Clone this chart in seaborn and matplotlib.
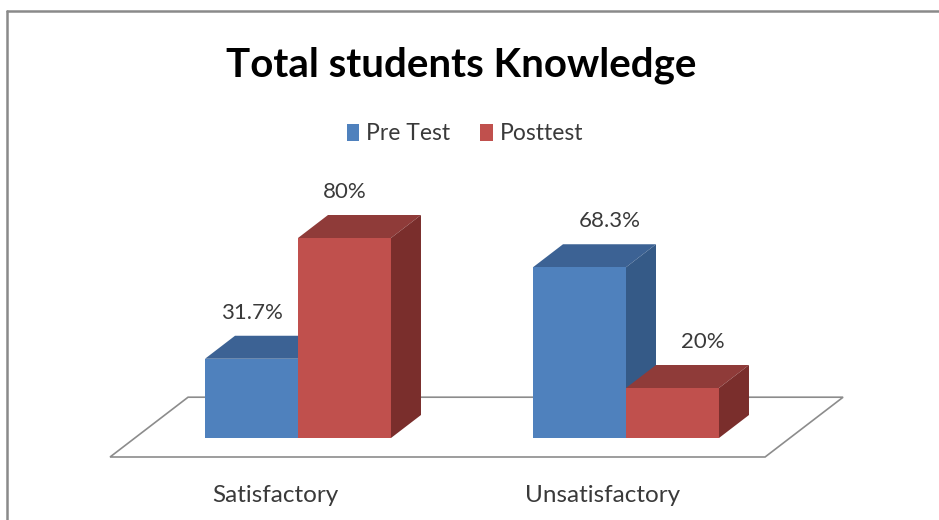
import numpy as np
import pandas as pd
import matplotlib
matplotlib.use("Agg")
import matplotlib.pyplot as plt
from matplotlib.patches import Polygon, Patch
from matplotlib.lines import Line2D
import seaborn as sns

# data
categories = ["Satisfactory", "Unsatisfactory"]
pre_test = [31.7, 68.3]
post_test = [80, 20]
series_names = ["Pre Test", "Posttest"]
value_labels = [["31.7%", "68.3%"], ["80%", "20%"]]

front_colors = ["#4f81bd", "#c0504d"]
top_colors = ["#3c6294", "#8f3b39"]
side_colors = ["#355a87", "#7a2e2c"]

df = pd.DataFrame({
    "category": categories * 2,
    "value": pre_test + post_test,
    "test": [series_names[0]] * 2 + [series_names[1]] * 2,
})

sns.set_style("white")
plt.rcParams["font.family"] = ["Lato", "DejaVu Sans"]

fig = plt.figure(figsize=(9.39, 5.2), dpi=100)
ax = fig.add_axes([0, 0, 1, 1])

sns.barplot(data=df, x="category", y="value", hue="test", order=categories,
            hue_order=series_names, palette=front_colors, saturation=1,
            width=0.567, gap=0, legend=False, ax=ax, zorder=2,
            edgecolor="none", linewidth=0)

# axes scaling: 328 px per category, 2.5 px per percent
ax.set_xlim(-298 / 328, (939 - 298) / 328)
ax.set_ylim(-82 / 2.5, (520 - 82) / 2.5)
ax.axis("off")

# depth of the fake 3d boxes
ddx = 30 / 328
ddy = 23 / 2.5

# floor
fx0, fx1, fy = -0.573, 1.424, -7.6
floor = Polygon([(fx0, fy), (fx1, fy), (fx1 + 2.6 * ddx, fy + 2.6 * ddy),
                 (fx0 + 2.6 * ddx, fy + 2.6 * ddy)], closed=True,
                facecolor="white", edgecolor="#8c8c8c", linewidth=1.2, zorder=0.5)
ax.add_patch(floor)

# top and side faces built from the bars seaborn drew
for i, bars in enumerate(ax.containers):
    for j, bar in enumerate(bars):
        x0 = bar.get_x()
        w = bar.get_width()
        h = bar.get_height()
        x1 = x0 + w
        z = 1 if i == 0 else 3
        top = Polygon([(x0, h), (x1, h), (x1 + ddx, h + ddy), (x0 + ddx, h + ddy)],
                      closed=True, facecolor=top_colors[i], edgecolor="none", zorder=z)
        side = Polygon([(x1, 0), (x1 + ddx, ddy), (x1 + ddx, h + ddy), (x1, h)],
                       closed=True, facecolor=side_colors[i], edgecolor="none", zorder=z)
        ax.add_patch(top)
        ax.add_patch(side)
        # labels of the second category sit over the back of the box
        shift = ddx * j
        ax.text(x0 + w / 2 + shift, h + 18.4, value_labels[i][j], ha="center",
                va="center", fontsize=16, color="#3a3a3a", zorder=4)

# category labels under the floor
for k, cat in enumerate(categories):
    ax.text(k - 23 / 328, -25.6, cat, ha="center", va="baseline",
            fontsize=17.5, color="#3a3a3a")

fig.text(0.491, 1 - 77 / 520, "Total students Knowledge", ha="center",
         va="baseline", fontsize=29, fontweight="bold", color="black")

handles = [Patch(facecolor=c, edgecolor="none") for c in front_colors]
fig.legend(handles, series_names, loc="center", bbox_to_anchor=(465 / 939, 1 - 134 / 520),
           ncol=2, frameon=False, fontsize=16.5, handlelength=0.55, handleheight=0.8,
           handletextpad=0.3, columnspacing=1.3, labelcolor="#3a3a3a")

# chart border (only top and left show)
fig.add_artist(Line2D([7 / 939, 1], [1 - 11 / 520, 1 - 11 / 520], transform=fig.transFigure,
                      color="#8a8a8a", linewidth=1.8))
fig.add_artist(Line2D([7 / 939, 7 / 939], [0, 1 - 11 / 520], transform=fig.transFigure,
                      color="#8a8a8a", linewidth=1.8))

fig.savefig("out.png", dpi=100, facecolor="white")
